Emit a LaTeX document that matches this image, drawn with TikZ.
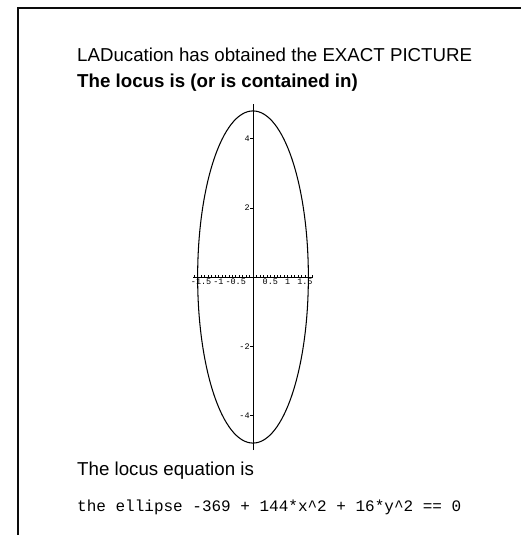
\documentclass[tikz,border=0pt]{standalone}
\usepackage{fontspec}
\setmainfont{Liberation Sans}
\setmonofont{Liberation Mono}
\usetikzlibrary{positioning}
\definecolor{mydark}{RGB}{0,0,0}
\definecolor{myframe}{RGB}{12,12,12}
\tikzset{
  caption/.style={inner sep=0pt, anchor=base west,
    font=\fontsize{18.7}{22}\selectfont},
  boldcaption/.style={caption, font=\fontsize{18.7}{22}\selectfont\bfseries},
  codeline/.style={inner sep=0pt, anchor=base west,
    font=\fontsize{16}{19}\ttfamily},
  ticklabel/.style={inner sep=0.4pt, font=\fontsize{8.5}{9}\ttfamily},
  axis/.style={line width=0.6pt, color=mydark},
  minortick/.style={line width=0.45pt, color=mydark},
  curve/.style={line width=1.05pt, color=mydark},
  frame/.style={line width=2.7pt, color=myframe}
}

\begin{document}
\begin{tikzpicture}[x=1pt, y=-1pt]
  \useasboundingbox (0,0) rectangle (520,535);
  \coordinate (framebot) at (18,536);
  \coordinate (corner) at (18,8);
  \coordinate (frameright) at (521,8);
  \draw[frame] (framebot) -- (corner) -- (frameright);

  \node[caption] (title) at (77,62) {LADucation has obtained the EXACT PICTURE};
  \node[boldcaption, below=26pt of title.base west, anchor=base west] (locus) {The locus is (or is contained in)};

  % the plot of the locus
  \begin{scope}[shift={(253,277)}, x=34.6pt, y=34.6pt]
    \coordinate (origin) at (0,0);
    \draw[axis] (0,-5) -- (0,5);
    \draw[axis] (-1.72,0) -- (1.72,0);
    \foreach \t in {-17,...,17}
      \draw[minortick] (\t/10,0) -- (\t/10,0.05);
    \foreach \v [count=\k] in {-1.5,-1,-0.5,0.5,1,1.5}
      \node[ticklabel, anchor=north] (xlab\k) at (\v,-0.04) {\v};
    \foreach \v [count=\k] in {4,2,-2,-4} {
      \draw[minortick] (-0.08,\v) -- (0,\v);
      \node[ticklabel, anchor=east] (ylab\k) at (-0.08,\v) {\v};
    }
    \draw[curve] (origin) ellipse [x radius=1.6, y radius=4.8];
  \end{scope}

  \node[caption] (eqlabel) at (77,475) {The locus equation is};
  \node[codeline, below=36pt of eqlabel.base west, anchor=base west] (eqtext) {the ellipse -369 + 144*x\textasciicircum 2 + 16*y\textasciicircum 2 == 0};
\end{tikzpicture}
\end{document}
